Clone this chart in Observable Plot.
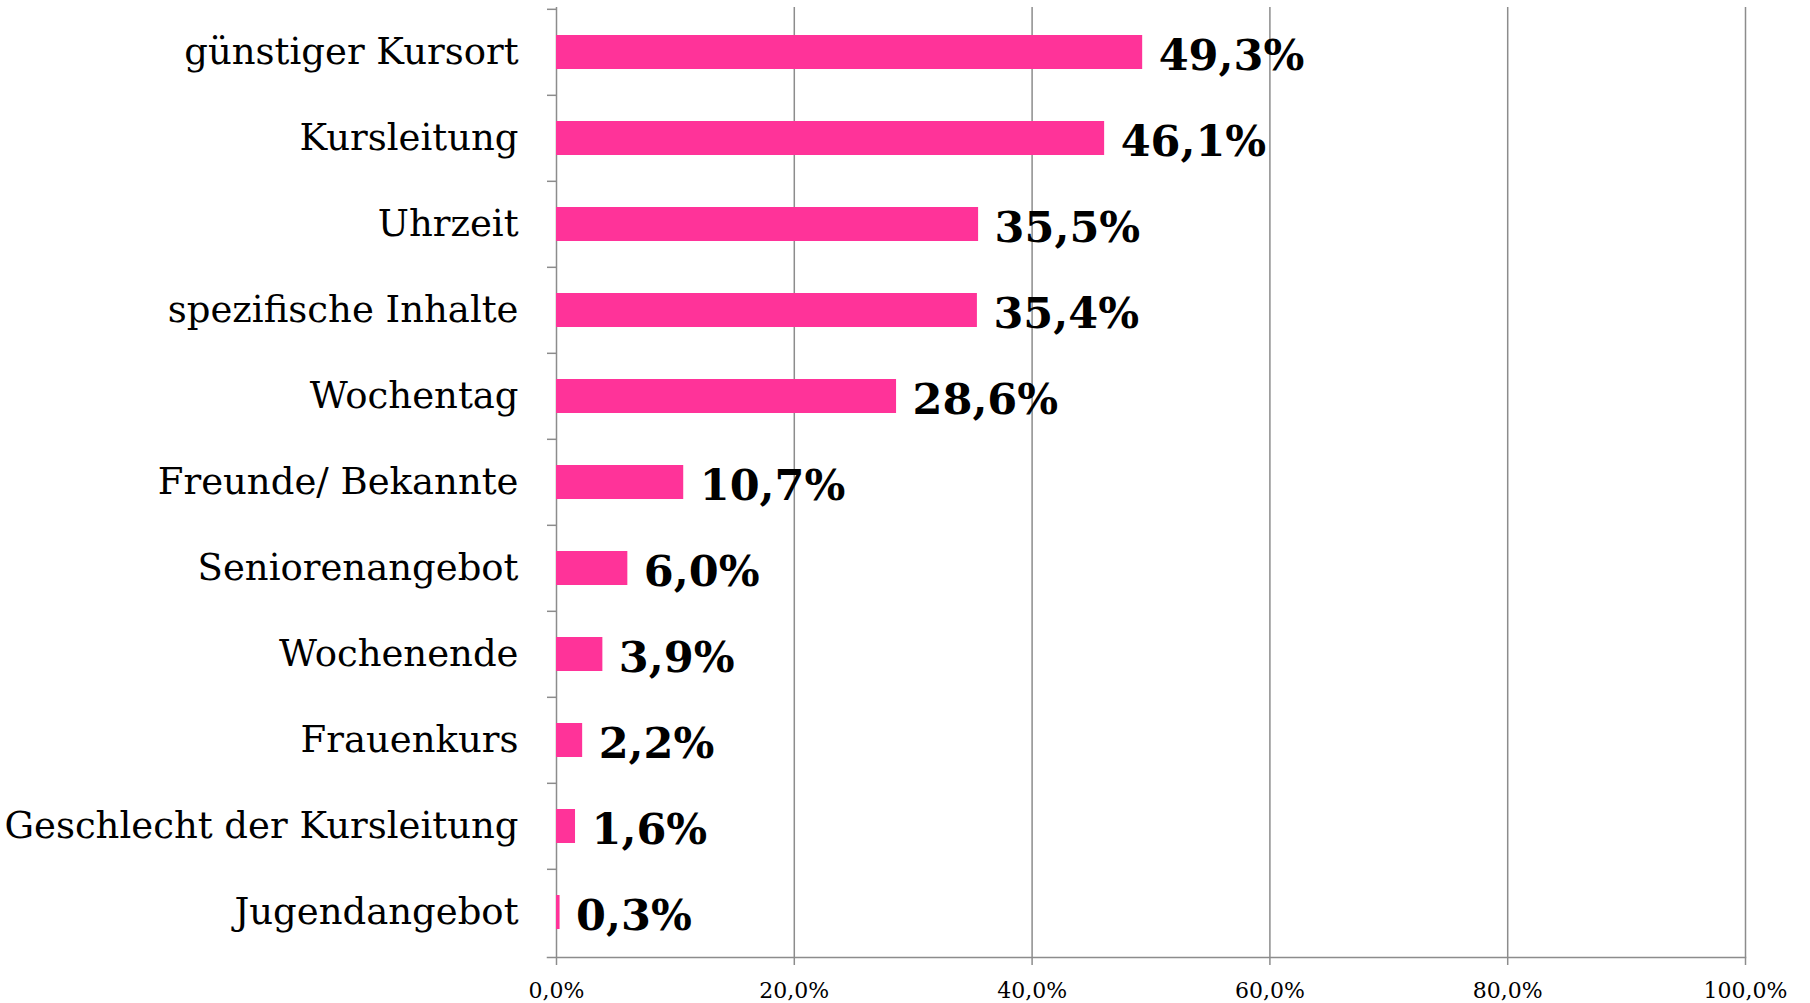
<!DOCTYPE html>
<html><head><meta charset="utf-8">
<script src="https://cdn.jsdelivr.net/npm/d3@7"></script>
<script src="https://cdn.jsdelivr.net/npm/@observablehq/plot@0.6"></script>
<style>html,body{margin:0;padding:0;background:#fff} svg{display:block}</style>
</head><body><div id="chart"></div>
<script>
const categories = ["günstiger Kursort","Kursleitung","Uhrzeit","spezifische Inhalte","Wochentag","Freunde/ Bekannte","Seniorenangebot","Wochenende","Frauenkurs","Geschlecht der Kursleitung","Jugendangebot"];
const values = [49.3, 46.1, 35.5, 35.4, 28.6, 10.7, 6.0, 3.9, 2.2, 1.6, 0.3];
const xTicks = [0, 20, 40, 60, 80, 100];

const data = categories.map((c, i) => ({category: c, value: values[i]}));
const W = 1810, H = 1003, mL = 556, mR = 65, mT = 7, mB = 46;
const step = (H - mT - mB) / categories.length;
const grid = "#8c8c8c";
const fmt = v => v.toFixed(1).replace(".", ",") + "%";

const chart = Plot.plot({
  width: W, height: H,
  marginLeft: mL, marginRight: mR, marginTop: mT, marginBottom: mB,
  style: {fontFamily: "'DejaVu Serif', serif", background: "#fff", color: "#000"},
  x: {domain: [0, 100], axis: null},
  y: {domain: categories, padding: 0, axis: null},
  marks: [
    Plot.ruleX(xTicks, {stroke: grid, strokeWidth: 1.5}),
    Plot.frame({anchor: "bottom", stroke: grid, strokeWidth: 1.5, insetLeft: -9}),
    Plot.axisX({ticks: xTicks, label: null, tickSize: 8, tickPadding: 17, tickFormat: fmt, stroke: grid, strokeWidth: 1.5, strokeOpacity: 1, fontSize: 22, fill: "#000"}),
    Plot.axisY({ticks: categories, label: null, tickSize: 9, tickFormat: () => "", dy: -step / 2, stroke: grid, strokeWidth: 1.5, strokeOpacity: 1}),
    Plot.axisY({ticks: categories, label: null, tickSize: 0, tickPadding: 38, fontSize: 37, fill: "#000"}),
    Plot.barX(data, {x: "value", y: "category", fill: "#ff3399", insetTop: 26, insetBottom: 26}),
    Plot.text(data, {x: "value", y: "category", text: d => fmt(d.value), dx: 16, dy: 4, textAnchor: "start", fontWeight: "bold", fontSize: 43, fill: "#000"})
  ]
});
document.getElementById("chart").appendChild(chart);
</script>
</body></html>
